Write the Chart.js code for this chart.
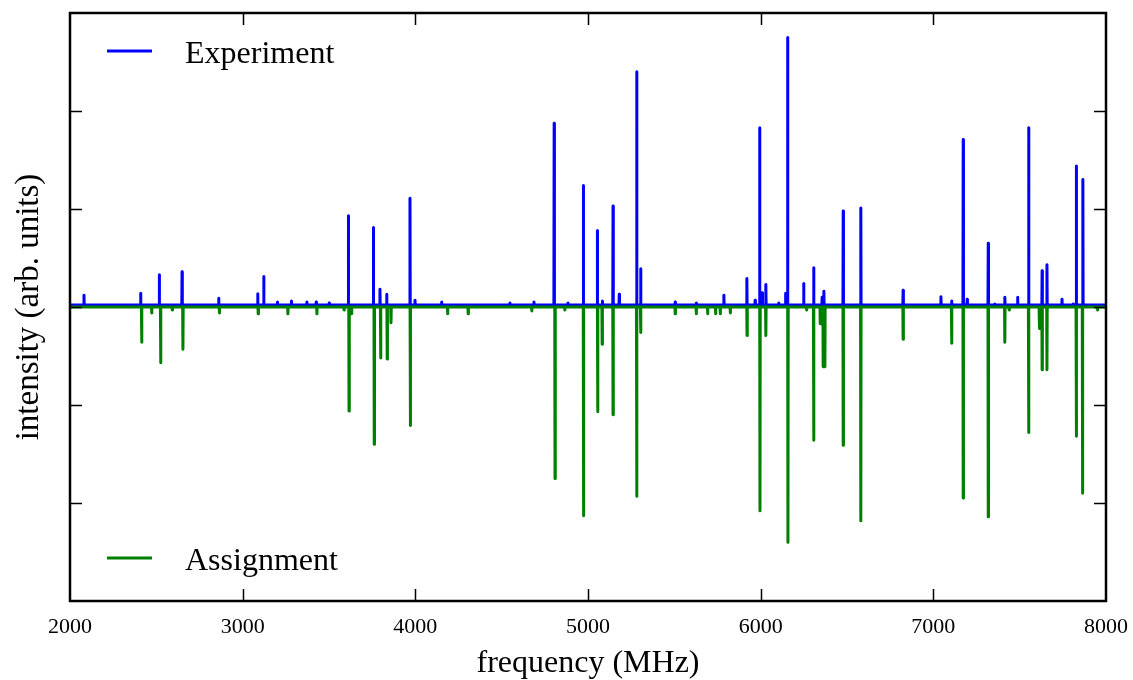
<!DOCTYPE html>
<html>
<head>
<meta charset="utf-8">
<script src="https://cdn.jsdelivr.net/npm/chart.js@4.4.1/dist/chart.umd.min.js"></script>
<style>
  html, body { margin: 0; padding: 0; background: #fff; }
  #wrap { width: 1133px; height: 680px; position: relative; }
</style>
</head>
<body>
<div id="wrap"><canvas id="chart-spectrum"></canvas></div>
<script>
(function () {
  'use strict';

  // experiment: line positions (MHz) and intensities
  var expFreq = [2081, 2409, 2517, 2649, 2861, 3087, 3122, 3201, 3282, 3372, 3426, 3501,
    3612, 3757, 3795, 3834, 3969, 3998, 4152, 4548, 4687, 4804, 4884, 4973, 5054, 5083,
    5145, 5181, 5282, 5305, 5505, 5627, 5787, 5920, 5968, 5994, 6009, 6030, 6105, 6144,
    6156, 6249, 6307, 6356, 6366, 6478, 6580, 6825, 7044, 7106, 7173, 7196, 7318, 7355,
    7414, 7488, 7552, 7630, 7658, 7745, 7810, 7828, 7866];
  var expAmp = [0.12, 0.14, 0.33, 0.36, 0.09, 0.135, 0.31, 0.05, 0.06, 0.05, 0.05, 0.04,
    0.93, 0.81, 0.18, 0.13, 1.11, 0.07, 0.05, 0.04, 0.05, 1.875, 0.04, 1.24, 0.78, 0.06,
    1.03, 0.13, 2.40, 0.39, 0.05, 0.04, 0.12, 0.29, 0.07, 1.83, 0.145, 0.23, 0.04, 0.14,
    2.75, 0.24, 0.40, 0.10, 0.16, 0.98, 1.01, 0.17, 0.105, 0.06, 1.71, 0.08, 0.65, 0.03,
    0.10, 0.10, 1.83, 0.37, 0.43, 0.08, 0.03, 1.44, 1.30];
  var expBaseline = 0.02;

  // assignment: predicted lines, drawn downwards
  var asgFreq = [2415, 2473, 2525, 2592, 2654, 2865, 3090, 3262, 3430, 3587, 3616, 3631,
    3762, 3799, 3837, 3859, 3971, 4187, 4306, 4674, 4809, 4866, 4974, 5056, 5082, 5145,
    5282, 5305, 5505, 5627, 5693, 5739, 5766, 5824, 5921, 5996, 6030, 6158, 6266, 6307,
    6345, 6362, 6372, 6478, 6580, 6825, 7106, 7173, 7318, 7414, 7439, 7552, 7614, 7630,
    7658, 7828, 7864, 7951];
  var asgAmp = [-0.36, -0.06, -0.57, -0.03, -0.43, -0.06, -0.07, -0.07, -0.07, -0.03, -1.06, -0.07,
    -1.40, -0.52, -0.53, -0.16, -1.21, -0.07, -0.07, -0.04, -1.75, -0.03, -2.13, -1.07, -0.38, -1.10,
    -1.93, -0.26, -0.07, -0.07, -0.07, -0.07, -0.07, -0.06, -0.29, -2.08, -0.29, -2.40, -0.03, -1.36,
    -0.17, -0.61, -0.61, -1.41, -2.18, -0.33, -0.37, -1.95, -2.14, -0.36, -0.03, -1.28, -0.22, -0.64,
    -0.64, -1.32, -1.90, -0.03];
  var asgBaseline = 0;

  var xRange = [2000, 8000];
  var yRange = [-3, 3];
  var xTicks = [2000, 3000, 4000, 5000, 6000, 7000, 8000];
  var yTicks = [-3, -2, -1, 0, 1, 2, 3];

  var serif = '"Liberation Serif", "Times New Roman", serif';

  // stick spectrum: each line is a narrow spike on the baseline
  function sticks(freqs, amps, base) {
    var pts = [{ x: xRange[0], y: base }];
    freqs.forEach(function (f, i) {
      pts.push({ x: f - 1.5, y: base }, { x: f, y: amps[i] }, { x: f + 1.5, y: base });
    });
    pts.push({ x: xRange[1], y: base });
    return pts;
  }

  var legendEntries = [
    { label: 'Experiment', color: '#0000ff', at: 'top' },
    { label: 'Assignment', color: '#008000', at: 'bottom' },
  ];

  var framePlugin = {
    id: 'frame',
    afterDatasetsDraw: function (chart) {
      var ctx = chart.ctx;
      var a = chart.chartArea;
      var xs = chart.scales.x;
      var ys = chart.scales.y;
      ctx.save();
      ctx.strokeStyle = '#000';
      ctx.lineWidth = 1.5;
      ctx.beginPath();
      xTicks.forEach(function (v) {
        if (v <= xs.min || v >= xs.max) return;
        var px = Math.round(xs.getPixelForValue(v)) + 0.5;
        ctx.moveTo(px, a.bottom);
        ctx.lineTo(px, a.bottom - 12);
        ctx.moveTo(px, a.top);
        ctx.lineTo(px, a.top + 12);
      });
      yTicks.forEach(function (v) {
        if (v <= ys.min || v >= ys.max) return;
        var py = Math.round(ys.getPixelForValue(v)) + 0.5;
        ctx.moveTo(a.left, py);
        ctx.lineTo(a.left + 12, py);
        ctx.moveTo(a.right, py);
        ctx.lineTo(a.right - 12, py);
      });
      ctx.stroke();
      ctx.lineWidth = 2.5;
      ctx.strokeRect(a.left, a.top, a.right - a.left, a.bottom - a.top);

      // legend: one entry in the upper left, one in the lower left
      ctx.font = '32px ' + serif;
      ctx.textBaseline = 'alphabetic';
      ctx.textAlign = 'left';
      legendEntries.forEach(function (e) {
        var y = e.at === 'top' ? a.top + 38 : a.bottom - 43;
        ctx.strokeStyle = e.color;
        ctx.lineWidth = 3;
        ctx.beginPath();
        ctx.moveTo(a.left + 37, y);
        ctx.lineTo(a.left + 82, y);
        ctx.stroke();
        ctx.fillStyle = '#000';
        ctx.fillText(e.label, a.left + 115, y + 12);
      });
      ctx.restore();
    },
  };

  new Chart(document.getElementById('chart-spectrum'), {
    type: 'line',
    data: {
      datasets: [
        {
          label: 'Experiment',
          data: sticks(expFreq, expAmp, expBaseline),
          borderColor: '#0000ff',
          borderWidth: 3,
          order: 2,
        },
        {
          label: 'Assignment',
          data: sticks(asgFreq, asgAmp, asgBaseline),
          borderColor: '#008000',
          borderWidth: 3,
          order: 1,
        },
      ],
    },
    options: {
      responsive: true,
      maintainAspectRatio: false,
      animation: false,
      events: [],
      layout: { padding: { top: 13, right: 27, left: 0, bottom: 0 } },
      elements: {
        point: { radius: 0 },
        line: { tension: 0, borderJoinStyle: 'round', borderCapStyle: 'round', fill: false },
      },
      plugins: { legend: { display: false }, tooltip: { enabled: false } },
      scales: {
        x: {
          type: 'linear',
          min: xRange[0],
          max: xRange[1],
          grid: { display: false, drawTicks: false },
          border: { display: false },
          afterBuildTicks: function (s) {
            s.ticks = xTicks.map(function (v) { return { value: v }; });
          },
          afterFit: function (s) {
            s.height = 79;
            s.paddingLeft = 0;
            s.paddingRight = 0;
          },
          ticks: {
            color: '#000',
            padding: 13,
            maxRotation: 0,
            font: { family: serif, size: 22 },
            callback: function (v) { return String(v); },
          },
          title: {
            display: true,
            text: 'frequency (MHz)',
            color: '#000',
            padding: { top: 0, bottom: 0 },
            font: { family: serif, size: 32, lineHeight: 1 },
          },
        },
        y: {
          min: yRange[0],
          max: yRange[1],
          grid: { display: false, drawTicks: false },
          border: { display: false },
          afterBuildTicks: function (s) {
            s.ticks = yTicks.map(function (v) { return { value: v }; });
          },
          afterFit: function (s) {
            s.width = 70;
            s.paddingTop = 0;
            s.paddingBottom = 0;
          },
          ticks: { display: false },
          title: {
            display: true,
            text: 'intensity (arb. units)',
            color: '#000',
            padding: { top: 13, bottom: 0 },
            font: { family: serif, size: 33, lineHeight: 1 },
          },
        },
      },
    },
    plugins: [framePlugin],
  });
})();
</script>
</body>
</html>
